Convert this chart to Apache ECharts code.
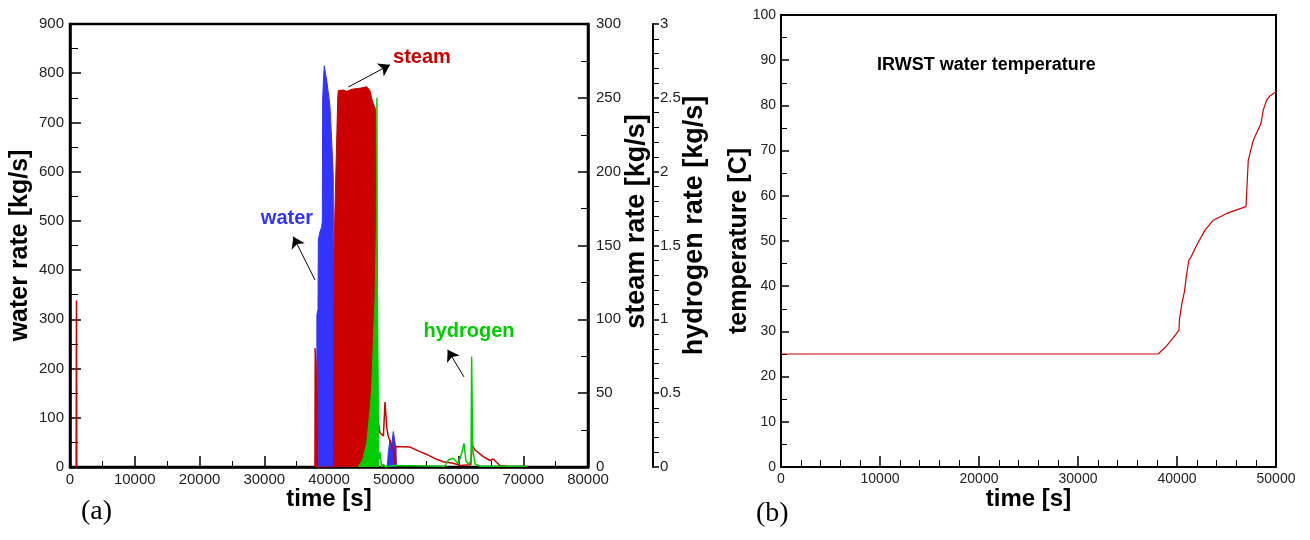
<!DOCTYPE html>
<html>
<head>
<meta charset="utf-8">
<script src="https://cdn.jsdelivr.net/npm/echarts@6/dist/echarts.min.js"></script>
<style>
  html, body { margin: 0; padding: 0; background: #fff; }
  #chart { width: 1310px; height: 540px; }
</style>
</head>
<body>
<div id="chart"></div>
<script>
// (a) flow rates, [time s, value]
const waterRate = [
  [38100, 0], [38130, 310], [38300, 320], [38350, 461], [38610, 478], [38870, 488],
  [38970, 500], [39020, 745], [39150, 790], [39280, 815], [39450, 800], [39640, 786],
  [39900, 760], [40150, 732], [40410, 664], [40660, 590], [40700, 0]
];
const waterTail = [
  [49000, 0], [49160, 30], [49420, 55], [49600, 35], [49930, 72], [50050, 68],
  [50300, 40], [50450, 0]
];
const steamEarly = [[950, 0], [1000, 112.7], [1050, 0]];
const steamDense = [
  [37800, 0], [37840, 80.5], [38000, 72], [38150, 47], [38200, 0],
  [40700, 0], [40780, 150], [41350, 250], [41440, 255], [42220, 255.3], [42720, 254.5],
  [43750, 256], [44800, 256.5], [45820, 257.5], [46330, 255], [46590, 249.7],
  [46840, 246], [47210, 242], [47260, 199], [47360, 41]
];
const steamTail = [
  [47360, 41], [47620, 30], [47880, 23], [48140, 24], [48400, 21], [48650, 44],
  [48910, 27], [49160, 20.5], [49420, 18], [49680, 14.9], [49930, 11.5], [50190, 2],
  [50300, 13.8], [52510, 13.5], [54050, 10.4], [55090, 8.5], [56630, 5.2], [57650, 3.6],
  [59200, 2.5], [60230, 1], [61900, 1.5], [62130, 14.9], [62540, 11.5], [63830, 7],
  [64860, 4.4], [65370, 5.4], [65780, 3.6], [66400, 1], [67430, 0.5], [70000, 0.3]
];
const hydrogenDense = [
  [44500, 0], [45200, 0.05], [45820, 0.16], [46330, 0.39], [46590, 0.54], [46840, 0.84],
  [47100, 1.13], [47300, 1.6], [47410, 2.5], [47500, 1.2], [47600, 0.6], [47650, 0.3],
  [47700, 0.05]
];
const hydrogenTail = [
  [47700, 0.05], [47880, 0.1], [48140, 0], [48400, 0.02], [48650, 0], [49900, 0.01],
  [57900, 0.005], [58430, 0.047], [59200, 0.059], [59970, 0.02], [60490, 0.093],
  [60850, 0.16], [61160, 0.04], [61520, 0.02], [61930, 0.04], [62030, 0.747],
  [62190, 0.13], [62550, 0.02], [63320, 0.005], [70530, 0.005]
];

// (b) IRWST water temperature, [time s, C]
const irwstTemp = [
  [0, 25], [38100, 25], [38950, 26.8], [39630, 28.6], [40200, 30.3], [40250, 32.7],
  [40450, 32.7], [40500, 36.2], [40700, 36.2], [40750, 38.8], [40900, 38.8], [40950, 42.3],
  [41100, 42.3], [41200, 45.8], [41400, 46.4], [42000, 49.1], [42830, 52.4], [43670, 54.6],
  [45020, 56.1], [46970, 57.6], [47200, 67.9], [47370, 69.4], [47710, 72.3], [48480, 76],
  [48720, 79], [49060, 81.2], [49390, 82.1], [50000, 83]
];

const BLUE = '#3333ff';
const RED = '#cc0000';
const GREEN = '#00cc00';
const SANS = "'Liberation Sans', Arial, sans-serif";

// shared axis look
function axisStyle(o) {
  const lw = o.lineWidth || 2.5;
  return {
    type: 'value',
    min: o.min, max: o.max, interval: o.interval,
    nameMoveOverlap: false,
    splitLine: { show: false },
    axisLine: { show: true, onZero: false, lineStyle: { color: '#000', width: lw } },
    axisTick: { show: true, inside: o.inside !== false, length: o.tick, lineStyle: { color: '#000', width: 1.5 } },
    minorTick: { show: true, splitNumber: o.minor, length: o.minorTick, lineStyle: { color: '#000', width: 1 } },
    axisLabel: {
      color: '#222', fontFamily: SANS, fontSize: o.fontSize || 15, margin: o.margin || 6,
      hideOverlap: false, showMinLabel: true, showMaxLabel: true,
      formatter: v => String(v)
    }
  };
}

function titleName(size) {
  return { fontFamily: SANS, fontWeight: 'bold', fontSize: size, color: '#000' };
}

const option = {
  animation: false,
  backgroundColor: '#fff',
  title: [
    { text: '(a)', left: 76, top: 493, textStyle: { fontFamily: "'Liberation Serif', serif", fontSize: 28, fontWeight: 'normal', color: '#000' } },
    { text: '(b)', left: 751, top: 495, textStyle: { fontFamily: "'Liberation Serif', serif", fontSize: 28, fontWeight: 'normal', color: '#000' } },
    { text: 'IRWST water temperature', left: 872, top: 51, textStyle: { fontFamily: SANS, fontSize: 18, fontWeight: 'bold', color: '#000' } }
  ],
  grid: [
    { left: 70, top: 24, width: 518, height: 443, show: true, borderColor: '#000', borderWidth: 2.5, backgroundColor: 'transparent' },
    { left: 781, top: 15, width: 495, height: 452, show: true, borderColor: '#000', borderWidth: 2, backgroundColor: 'transparent' }
  ],
  xAxis: [
    Object.assign(axisStyle({ min: 0, max: 80000, interval: 10000, tick: 11, minor: 2, minorTick: 6, margin: 5 }), {
      gridIndex: 0, name: 'time [s]', nameLocation: 'middle', nameGap: 20, nameTextStyle: titleName(24)
    }),
    Object.assign(axisStyle({ min: 0, max: 50000, interval: 10000, tick: 11, minor: 5, minorTick: 7, lineWidth: 2, fontSize: 14, margin: 5 }), {
      gridIndex: 1, name: 'time [s]', nameLocation: 'middle', nameGap: 20, nameTextStyle: titleName(24)
    })
  ],
  yAxis: [
    Object.assign(axisStyle({ min: 0, max: 900, interval: 100, tick: 11, minor: 2, minorTick: 8 }), {
      gridIndex: 0, position: 'left', name: 'water rate [kg/s]', nameLocation: 'middle', nameRotate: 90, nameGap: 37,
      nameTextStyle: titleName(25)
    }),
    Object.assign(axisStyle({ min: 0, max: 300, interval: 50, tick: 10, minor: 2, minorTick: 7, margin: 8 }), {
      gridIndex: 0, position: 'right', name: 'steam rate [kg/s]', nameLocation: 'middle', nameRotate: 90, nameGap: 35,
      nameTextStyle: Object.assign(titleName(27), { padding: [0, 0, 0, 48] })
    }),
    Object.assign(axisStyle({ min: 0, max: 3, interval: 0.5, tick: 6, minor: 5, minorTick: 6, inside: false, lineWidth: 2, margin: 7 }), {
      gridIndex: 0, position: 'right', offset: 65, name: 'hydrogen rate [kg/s]', nameLocation: 'middle', nameRotate: 90, nameGap: 28,
      nameTextStyle: Object.assign(titleName(27), { padding: [0, 0, 0, 40] })
    }),
    Object.assign(axisStyle({ min: 0, max: 100, interval: 10, tick: 8, minor: 2, minorTick: 6, lineWidth: 2, fontSize: 14, margin: 5 }), {
      gridIndex: 1, position: 'left', name: 'temperature [C]', nameLocation: 'middle', nameRotate: 90, nameGap: 29,
      nameTextStyle: titleName(25)
    })
  ],
  series: [
    {
      name: 'water', type: 'line', xAxisIndex: 0, yAxisIndex: 0, data: waterRate,
      showSymbol: false, lineStyle: { color: BLUE, width: 1 }, areaStyle: { color: BLUE, opacity: 1 }, z: 3,
      markLine: {
        silent: true, symbol: ['none', 'arrow'], symbolSize: 11,
        lineStyle: { color: '#000', width: 1, type: 'solid' }, label: { show: false },
        data: [
          [{ coord: [37840, 380] }, { coord: [34490, 468] }],
          [{ coord: [42980, 772] }, { coord: [49420, 817] }],
          [{ coord: [60850, 183] }, { coord: [58330, 238] }]
        ]
      },
      markPoint: {
        silent: true, symbol: 'circle', symbolSize: 1, itemStyle: { color: 'rgba(0,0,0,0)' },
        label: { show: true, position: 'inside', fontFamily: SANS, fontWeight: 'bold', fontSize: 20 },
        data: [
          { coord: [33510, 504], label: { formatter: 'water', color: BLUE } },
          { coord: [54360, 832], label: { formatter: 'steam', color: RED } },
          { coord: [61620, 275], label: { formatter: 'hydrogen', color: GREEN } }
        ]
      }
    },
    {
      name: 'water tail', type: 'line', xAxisIndex: 0, yAxisIndex: 0, data: waterTail,
      showSymbol: false, lineStyle: { color: BLUE, width: 1 }, areaStyle: { color: BLUE, opacity: 1 }, z: 3
    },
    {
      name: 'steam', type: 'line', xAxisIndex: 0, yAxisIndex: 1, data: steamDense,
      showSymbol: false, lineStyle: { color: RED, width: 1 }, areaStyle: { color: RED, opacity: 1 }, z: 4
    },
    {
      name: 'steam early', type: 'line', xAxisIndex: 0, yAxisIndex: 1, data: steamEarly,
      showSymbol: false, lineStyle: { color: RED, width: 1.5 }, z: 4
    },
    {
      name: 'steam tail', type: 'line', xAxisIndex: 0, yAxisIndex: 1, data: steamTail,
      showSymbol: false, lineStyle: { color: RED, width: 1.5 }, z: 4
    },
    {
      name: 'hydrogen', type: 'line', xAxisIndex: 0, yAxisIndex: 2, data: hydrogenDense,
      showSymbol: false, lineStyle: { color: GREEN, width: 1 }, areaStyle: { color: GREEN, opacity: 1 }, z: 5
    },
    {
      name: 'hydrogen tail', type: 'line', xAxisIndex: 0, yAxisIndex: 2, data: hydrogenTail,
      showSymbol: false, lineStyle: { color: GREEN, width: 1.5 }, z: 5
    },
    {
      name: 'IRWST', type: 'line', xAxisIndex: 1, yAxisIndex: 3, data: irwstTemp,
      showSymbol: false, lineStyle: { color: RED, width: 1.2 }, z: 3
    }
  ]
};

const chart = echarts.init(document.getElementById('chart'), null, { renderer: 'canvas' });
chart.setOption(option);
</script>
</body>
</html>
